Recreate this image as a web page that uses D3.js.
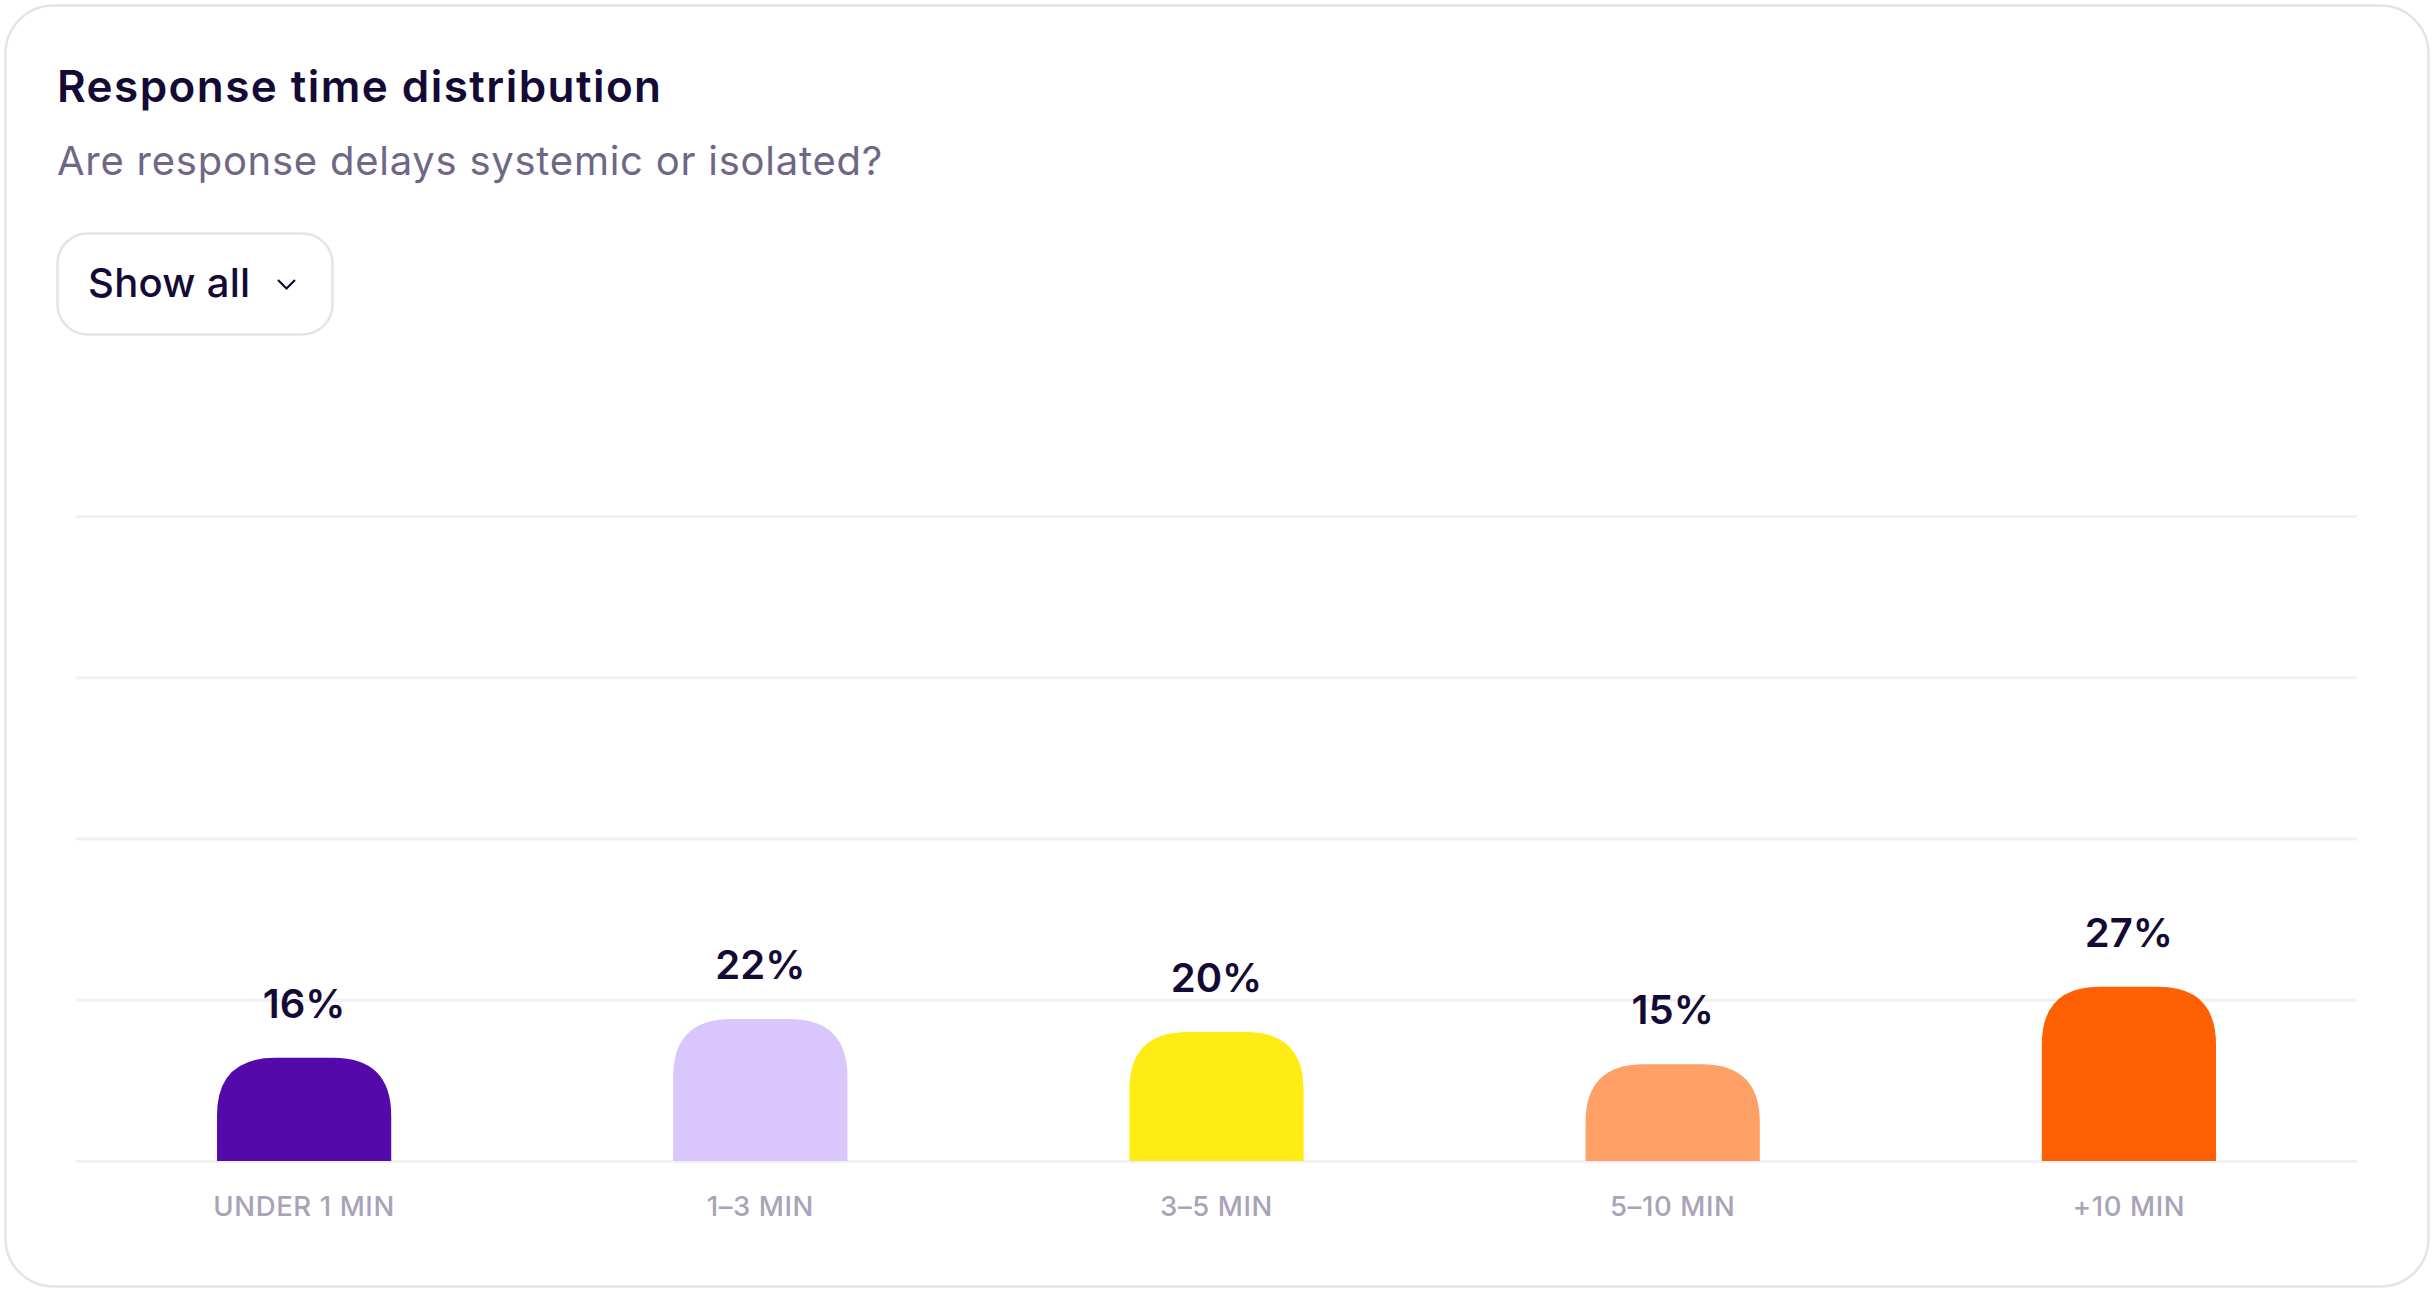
<!DOCTYPE html>
<html>
<head>
<meta charset="utf-8">
<script src="https://cdn.jsdelivr.net/npm/d3@7"></script>
<style>
  body { margin: 0; background: #ffffff; font-family: Inter, "Noto Sans", sans-serif; }
  #svg-container { width: 2436px; height: 1300px; }
</style>
</head>
<body>
<div id="svg-container"></div>
<script>
// chart data
const categories = ['UNDER 1 MIN', '1–3 MIN', '3–5 MIN', '5–10 MIN', '+10 MIN'];
const values = [16, 22, 20, 15, 27];
const barColors = ['#540aab', '#d9c6fd', '#ffec14', '#ffa066', '#ff6003'];
const gridTicks = [0, 25, 50, 75, 100];

const W = 2436, H = 1300;
const plot = { left: 76, right: 2357, top: 516, bottom: 1161 };

const svg = d3.select('#svg-container')
    .append('svg')
    .attr('width', W)
    .attr('height', H);

// card
svg.append('rect')
    .attr('x', 5.5).attr('y', 5.5)
    .attr('width', 2423).attr('height', 1281)
    .attr('rx', 48)
    .attr('fill', '#ffffff')
    .attr('stroke', '#e4e3e9')
    .attr('stroke-width', 2.5);

// title + subtitle
svg.append('text')
    .attr('x', 57).attr('y', 102)
    .attr('fill', '#140a35')
    .style('font-size', '44px')
    .style('font-weight', 600)
    .style('letter-spacing', '1.45px')
    .text('Response time distribution');

svg.append('text')
    .attr('x', 57).attr('y', 175)
    .attr('fill', '#6f6786')
    .style('font-size', '40px')
    .style('letter-spacing', '0.75px')
    .text('Are response delays systemic or isolated?');

// dropdown button
const btn = svg.append('g').attr('class', 'dropdown');
btn.append('rect')
    .attr('x', 57.5).attr('y', 233.5)
    .attr('width', 275).attr('height', 101)
    .attr('rx', 30)
    .attr('fill', '#ffffff')
    .attr('stroke', '#e4e3e9')
    .attr('stroke-width', 2.5);
btn.append('text')
    .attr('x', 88).attr('y', 297)
    .attr('fill', '#140a35')
    .style('font-size', '40px')
    .style('font-weight', 500)
    .style('letter-spacing', '0.3px')
    .text('Show all');
btn.append('path')
    .attr('d', 'M278,280 L286.5,288.5 L295,280')
    .attr('fill', 'none')
    .attr('stroke', '#140a35')
    .attr('stroke-width', 2.2);

// scales
const x = d3.scaleBand()
    .domain(categories)
    .range([plot.left, plot.right])
    .paddingInner(0.618)
    .paddingOuter(0.309);

const y = d3.scaleLinear()
    .domain([0, 100])
    .range([plot.bottom, plot.top]);

// gridlines
svg.append('g')
    .attr('class', 'grid')
    .attr('transform', `translate(${plot.left},0)`)
    .call(d3.axisLeft(y).tickValues(gridTicks).tickSize(-(plot.right - plot.left)).tickFormat(''))
    .call(g => g.select('.domain').remove())
    .call(g => g.selectAll('line').attr('stroke', '#f1f1f4').attr('stroke-width', 3));

// x axis labels
svg.append('g')
    .attr('class', 'x-axis')
    .attr('transform', `translate(0,${plot.bottom})`)
    .call(d3.axisBottom(x).tickSize(0))
    .call(g => g.select('.domain').remove())
    .call(g => g.selectAll('text')
        .attr('fill', '#a8a3b8')
        .style('font-family', 'Inter, "Noto Sans", sans-serif')
        .style('font-size', '27.5px')
        .style('font-weight', 500)
        .style('letter-spacing', '0.6px')
        .attr('dy', 0)
        .attr('y', 55));

// bars with rounded tops
const r = 58;
const barPath = (x0, w, yTop, yBase) => {
    const rr = Math.min(r, w / 2, yBase - yTop);
    return `M${x0},${yBase} L${x0},${yTop + rr} Q${x0},${yTop} ${x0 + rr},${yTop} ` +
        `L${x0 + w - rr},${yTop} Q${x0 + w},${yTop} ${x0 + w},${yTop + rr} L${x0 + w},${yBase} Z`;
};

const bars = svg.append('g').attr('class', 'bars');
bars.selectAll('path.bar')
    .data(values)
    .enter()
    .append('path')
    .attr('class', 'bar')
    .attr('d', (d, i) => barPath(x(categories[i]), x.bandwidth(), y(d), y(0)))
    .attr('fill', (d, i) => barColors[i]);

// value labels
bars.selectAll('text.value')
    .data(values)
    .enter()
    .append('text')
    .attr('class', 'value')
    .attr('x', (d, i) => x(categories[i]) + x.bandwidth() / 2)
    .attr('y', d => y(d) - 40)
    .attr('text-anchor', 'middle')
    .attr('fill', '#140a35')
    .style('font-size', '40px')
    .style('font-weight', 600)
    .text(d => d + '%');
</script>
</body>
</html>
